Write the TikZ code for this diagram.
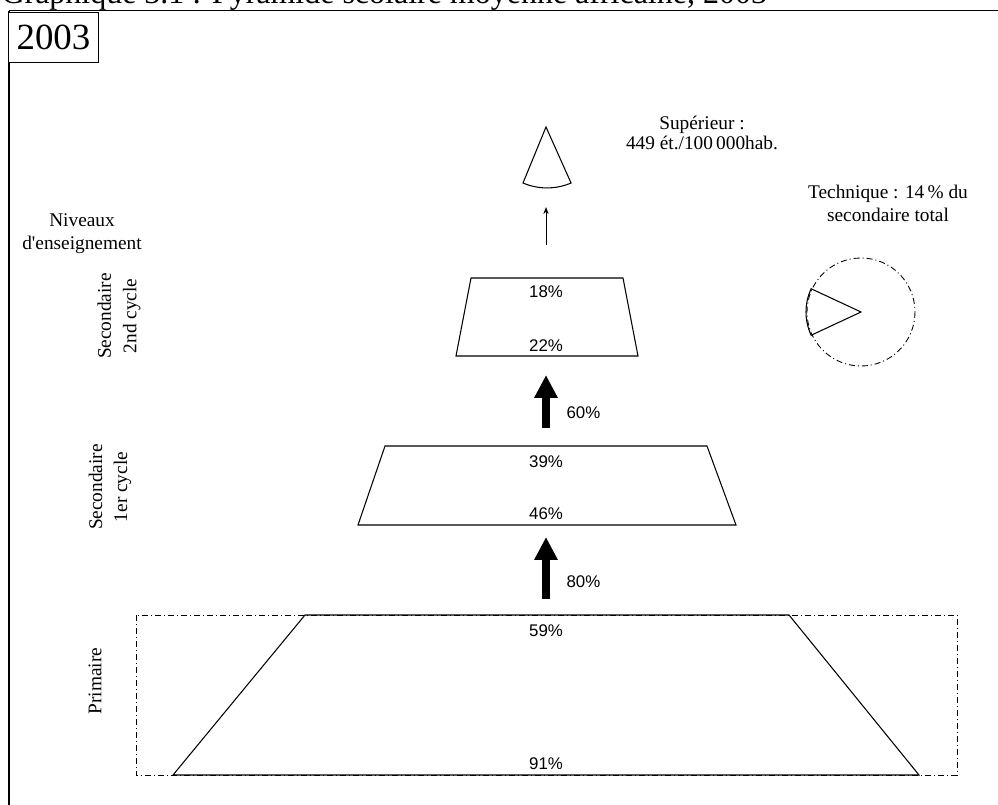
\documentclass[tikz,border=0pt]{standalone}
\usepackage{fontspec}
\setmainfont{Liberation Serif}
\setsansfont{Liberation Sans}
\usetikzlibrary{arrows.meta}
\tikzset{lab/.style={font=\fontsize{11}{12}\selectfont,align=center,inner sep=0pt},
  pct/.style={font=\sffamily\fontsize{9.6}{11}\selectfont,inner sep=0pt},
  trap/.style={draw,line width=0.6pt},
  dashdot/.style={line width=0.5pt,dash pattern=on 3.4pt off 1.7pt on 0.6pt off 1.7pt},
  flow/.style={line width=4.5pt,-{Triangle[width=12.5pt,length=13pt]}}}

\begin{document}
\begin{tikzpicture}[x=0.02cm,y=-0.02cm,line width=0.6pt]
    \useasboundingbox (0,0) rectangle (998,805);
    % titre et cadre
    \node[anchor=base west,inner sep=0pt,font=\fontsize{18.2}{20}\selectfont] (title) at (1,3) {Graphique 3.1 : Pyramide scolaire moyenne africaine, 2003};
    \draw (9,10.5) -- (998,10.5);
    \draw (9,10.5) -- (9,805);
    \node[draw,fill=white,minimum width=51pt,minimum height=28.9pt,inner sep=0pt,font=\fontsize{21}{24}\selectfont] (yr) at (53.5,37.5) {2003};

    % textes
    \node[lab,font=\fontsize{11}{13}\selectfont] (niv) at (82,233.5) {Niveaux\\d\textquotesingle enseignement};
    \node[lab,rotate=90,font=\fontsize{11}{14.6}\selectfont] (l2) at (119,316) {Secondaire\\2nd cycle};
    \node[lab,rotate=90,font=\fontsize{11}{14.3}\selectfont] (l1) at (110,487) {Secondaire\\1er cycle};
    \node[lab,rotate=90] (lp) at (95,681) {Primaire};
    \node[lab,font=\fontsize{11}{11.4}\selectfont] (sup) at (702,133) {Supérieur :\\449 ét./100\,000hab.};
    \node[lab,font=\fontsize{11}{13}\selectfont] (tech) at (888,203) {Technique : 14\,\% du\\secondaire total};

    % supérieur
    \draw (546,127) -- (523,183) arc[start angle=113.2,end angle=66.8,radius=61] -- cycle;
    \coordinate (s0) at (546,245);
    \coordinate (s1) at (546,207);
    \draw [-{Stealth[length=4pt,width=3pt]},line width=0.5pt] (s0) to [] (s1);

    % secondaire 2nd cycle
    \draw [trap] (471,278) -- (623,278) -- (638,356) -- (456,356) -- cycle;
    \node[pct] (p18) at (546,292) {18\%};
    \node[pct] (p22) at (546,346) {22\%};

    \coordinate (a0) at (546,428);
    \coordinate (a1) at (546,375);
    \draw [flow] (a0) to [] (a1);
    \node[pct,anchor=west] (p60) at (566,413) {60\%};

    % secondaire 1er cycle
    \draw [trap] (385,446) -- (707,446) -- (736,525) -- (358,525) -- cycle;
    \node[pct] (p39) at (546,462) {39\%};
    \node[pct] (p46) at (546,514) {46\%};

    \coordinate (b0) at (546,599);
    \coordinate (b1) at (546,537);
    \draw [flow] (b0) to [] (b1);
    \node[pct,anchor=west] (p80) at (566,582) {80\%};

    % primaire
    \draw [dashdot] (136,615) rectangle (957,775);
    \draw [trap] (305,615) -- (789,615) -- (919,775) -- (173,775) -- cycle;
    \node[pct] (p59) at (546,631) {59\%};
    \node[pct] (p91) at (546,764) {91\%};

    % technique
    \coordinate (pc) at (861,312);
    \draw [dashdot] (pc) circle[radius=54];
    \draw (pc) -- ++(155:55) arc[start angle=155,end angle=205,radius=55] -- cycle;
\end{tikzpicture}
\end{document}
